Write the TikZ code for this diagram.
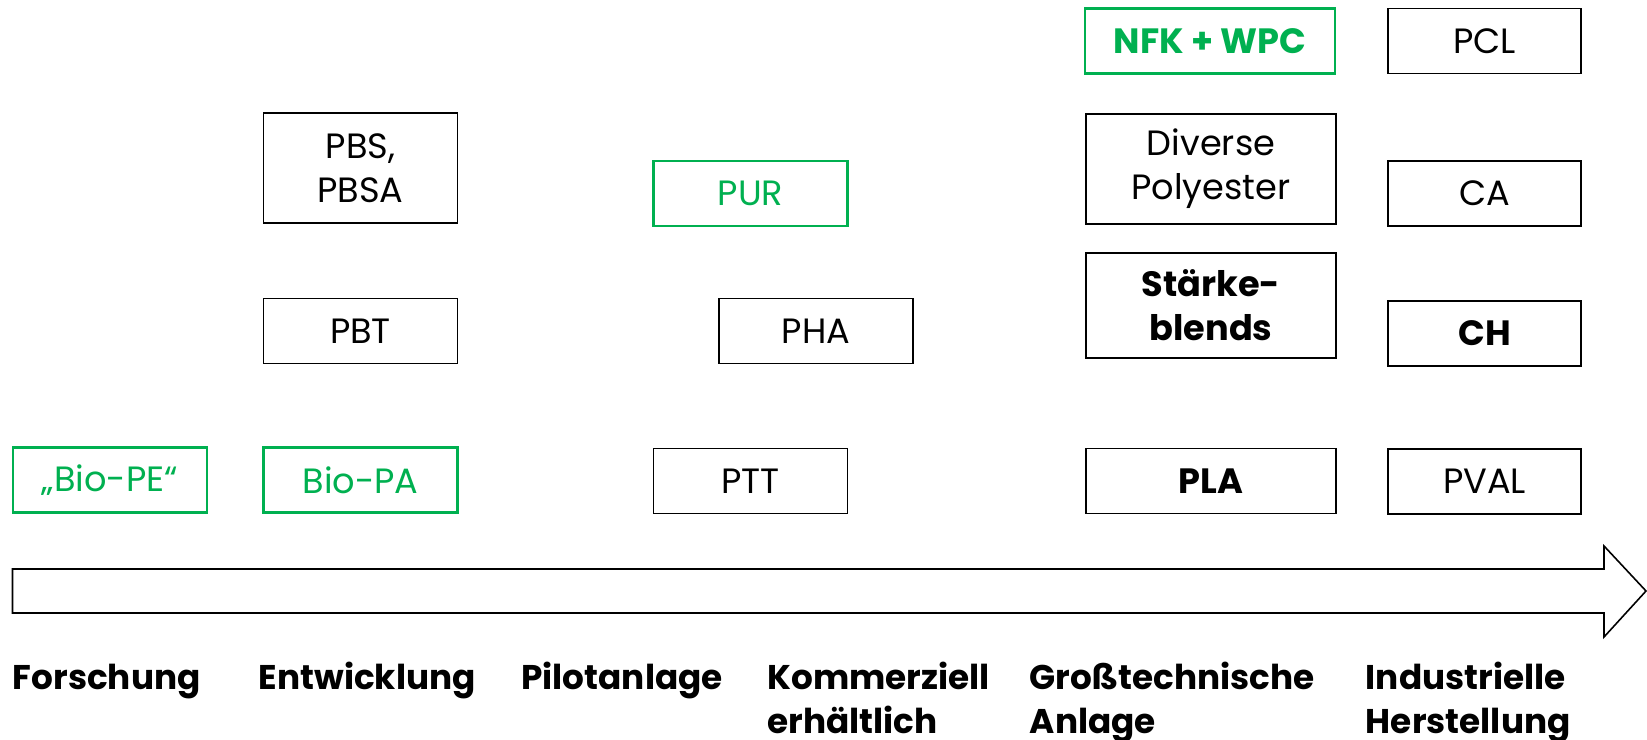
\documentclass[tikz,border=0pt]{standalone}
\usepackage{fontspec}
\setmainfont{Poppins}
\definecolor{bgreen}{RGB}{0,176,80}
\tikzset{
  box/.style={draw, line width=1.1pt, align=center, minimum width=3.88cm, minimum height=1.3cm, inner sep=2pt, font=\fontsize{20}{25}\selectfont},
  kgreen/.style={box, draw=bgreen, text=bgreen, line width=1.4pt},
  kwide/.style={minimum width=5.0cm},
  ktall/.style={minimum height=2.2cm},
  kbold/.style={font=\fontsize{20}{25}\selectfont\bfseries},
  stage/.style={anchor=base west, align=left, inner sep=0pt, font=\fontsize{19.5}{24.5}\selectfont\bfseries},
}
\begin{document}
\begin{tikzpicture}
    \useasboundingbox (0,0) rectangle (32.94,14.78);
    % column 1
    \node[kgreen] (biope) at (2.20,5.18) {„Bio-PE“};
    % column 2
    \node[box, ktall] (pbs) at (7.21,11.42) {PBS,\\PBSA};
    \node[box] (pbt) at (7.21,8.16) {PBT};
    \node[kgreen] (biopa) at (7.21,5.18) {Bio-PA};
    % column 3
    \node[kgreen] (pur) at (15.01,10.91) {PUR};
    \node[box] (pha) at (16.32,8.16) {PHA};
    \node[box] (ptt) at (15.01,5.16) {PTT};
    % column 4
    \node[kgreen, kwide, kbold] (nfk) at (24.20,13.96) {NFK + WPC};
    \node[box, kwide, ktall] (polyester) at (24.22,11.40) {Diverse\\Polyester};
    \node[box, kwide, kbold, minimum height=2.1cm] (staerke) at (24.22,8.67) {Stärke-\\blends};
    \node[box, kwide, kbold] (pla) at (24.22,5.16) {PLA};
    % column 5
    \node[box, minimum width=3.86cm] (pcl) at (29.69,13.96) {PCL};
    \node[box, minimum width=3.86cm] (ca) at (29.69,10.91) {CA};
    \node[box, minimum width=3.86cm, kbold] (ch) at (29.69,8.11) {CH};
    \node[box, minimum width=3.86cm] (pval) at (29.69,5.15) {PVAL};
    % big arrow
    \draw[line width=0.9pt] (0.25,3.40) -- (32.08,3.40) -- (32.08,3.86) -- (32.92,2.96)
      -- (32.08,2.04) -- (32.08,2.52) -- (0.25,2.52) -- cycle;
    % stages (two-line ones sit on their last baseline)
    \node[stage] (s1) at (0.25,0.98) {Forschung};
    \node[stage] (s2) at (5.17,0.98) {Entwicklung};
    \node[stage] (s3) at (10.42,0.98) {Pilotanlage};
    \node[stage] (s4) at (15.34,0.12) {Kommerziell\\erhältlich};
    \node[stage] (s5) at (20.59,0.12) {Großtechnische\\Anlage};
    \node[stage] (s6) at (27.31,0.12) {Industrielle\\Herstellung};
  \end{tikzpicture}
\end{document}
